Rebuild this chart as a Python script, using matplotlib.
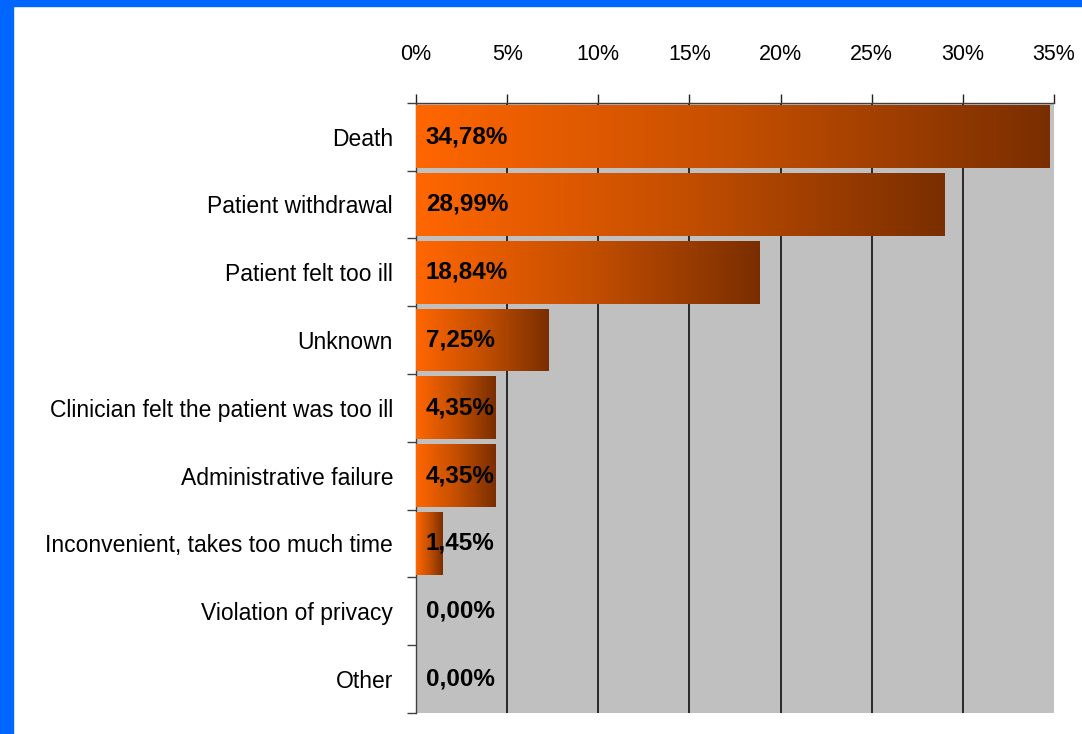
import numpy as np
import matplotlib
matplotlib.use('Agg')
import matplotlib.pyplot as plt
from matplotlib.colors import LinearSegmentedColormap
from matplotlib.patches import Rectangle

categories = ["Death", "Patient withdrawal", "Patient felt too ill", "Unknown",
              "Clinician felt the patient was too ill", "Administrative failure",
              "Inconvenient, takes too much time", "Violation of privacy", "Other"]
values = [34.78, 28.99, 18.84, 7.25, 4.35, 4.35, 1.45, 0.00, 0.00]
labels = ["34,78%", "28,99%", "18,84%", "7,25%", "4,35%", "4,35%", "1,45%", "0,00%", "0,00%"]
xticks = [0, 5, 10, 15, 20, 25, 30, 35]

plt.rcParams['font.family'] = ['Liberation Sans', 'DejaVu Sans']

fig = plt.figure(figsize=(10.82, 7.34), dpi=100)
fig.patch.set_facecolor('white')
# blue frame on top and left
fig.patches.append(Rectangle((0, 1 - 6 / 734), 1, 6 / 734, transform=fig.transFigure,
                             color='#0066FF', zorder=10))
fig.patches.append(Rectangle((0, 0), 13 / 1082, 1, transform=fig.transFigure,
                             color='#0066FF', zorder=10))

ax = fig.add_axes([416 / 1082, 1 - 713 / 734, (1054 - 416) / 1082, (713 - 102.7) / 734])
ax.set_facecolor('#C0C0C0')

cmap = LinearSegmentedColormap.from_list('bar', ['#FF6600', '#C44F00', '#7A2E00'])
grad = np.linspace(0, 1, 256).reshape(1, -1)

y = np.arange(len(categories))
bars = ax.barh(y, values, height=0.925, color='none', edgecolor='none', zorder=3)
for b, v in zip(bars, values):
    if v <= 0:
        continue
    im = ax.imshow(grad, cmap=cmap, aspect='auto', zorder=3,
                   extent=[0, v, b.get_y() + b.get_height(), b.get_y()])
    im.set_clip_path(b)

for yi, lab in zip(y, labels):
    ax.annotate(lab, xy=(0, yi), xytext=(7, 0), textcoords='offset points',
                ha='left', va='center', fontsize=17.5, fontweight='bold', zorder=5)

ax.set_xlim(0, 35)
ax.set_ylim(len(categories) - 0.5, -0.5)

ax.xaxis.tick_top()
ax.set_xticks(xticks)
ax.set_xticklabels([f"{t}%" for t in xticks], fontsize=15.5)
ax.tick_params(axis='x', direction='out', length=6.5, width=1, pad=21, color='#202020')
for t in xticks[1:-1]:
    ax.axvline(t, color='black', linewidth=1.1, zorder=2)

ax.set_yticks(y)
ax.set_yticklabels(categories, fontsize=16.5)
ax.tick_params(axis='y', length=0, pad=16.5)
ax.set_yticks(np.arange(-0.5, len(categories)), minor=True)
ax.tick_params(axis='y', which='minor', direction='out', length=6.5, width=1, color='#404040')

for s in ['right', 'bottom']:
    ax.spines[s].set_visible(False)
for s in ['top', 'left']:
    ax.spines[s].set_color('#404040')
    ax.spines[s].set_linewidth(1)

fig.savefig('out.png', dpi=100)
